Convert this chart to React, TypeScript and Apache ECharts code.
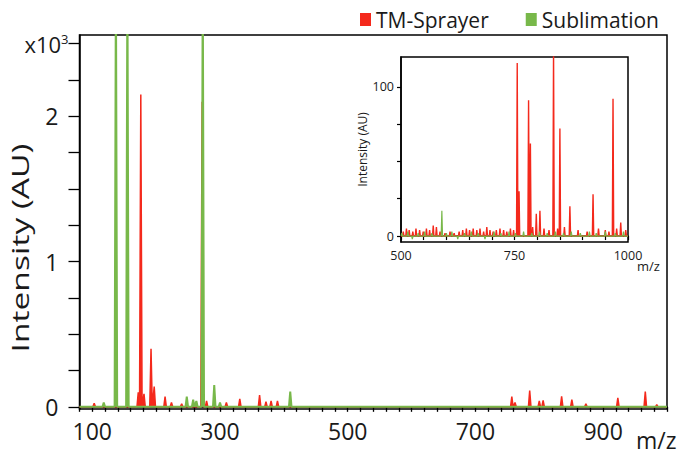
import React, { useEffect, useRef } from 'react';
import * as echarts from 'echarts';

// Tick labels
const mainXLabels = [100, 300, 500, 700, 900];
const mainYTicks = [0, 250, 500, 750, 1000, 1250, 1500, 1750, 2000, 2250, 2500];
const mainYLabels = [0, 1000, 2000, 2500];
const insetXLabels = [500, 750, 1000];
const insetYTicks = [0, 25, 50, 75, 100];
const insetYLabels = [0, 100];

// Main spectrum, TM-Sprayer (red): m/z and intensity
const sprayerMz = [103, 172, 176, 181, 192, 197, 214, 224, 240, 272, 279, 310, 331, 362, 372, 380, 390, 757, 762, 785, 800, 806, 835, 851, 873, 923, 966, 984];
const sprayerIntensity = [25, 100, 2150, 90, 400, 140, 70, 30, 20, 2100, 40, 30, 55, 80, 35, 40, 40, 70, 30, 112, 40, 45, 72, 50, 20, 62, 105, 15];

// Main spectrum, Sublimation (green)
const sublimationMz = [118, 137, 155, 248, 258, 263, 273, 291, 300, 410];
const sublimationIntensity = [30, 3000, 3000, 70, 50, 40, 3000, 150, 30, 105];

// Inset spectrum (m/z 500-1000), TM-Sprayer
const insetSprayerMz = [505, 512, 518, 526, 533, 541, 549, 556, 563, 571, 578, 586, 597, 608, 617, 628, 636, 644, 651, 659, 667, 674, 682, 689, 696, 703, 710, 718, 726, 733, 741, 748, 756, 760, 781, 785, 790, 798, 806, 815, 826, 836, 845, 850, 860, 872, 890, 910, 923, 935, 950, 958, 967, 975, 984, 995];
const insetSprayerIntensity = [3, 5, 4, 3, 5, 4, 3, 5, 4, 7, 6, 3, 2, 3, 2, 3, 4, 5, 4, 5, 4, 5, 3, 6, 4, 3, 4, 5, 4, 3, 5, 4, 116, 30, 91, 62, 6, 15, 17, 5, 4, 125, 5, 72, 6, 20, 4, 3, 28, 5, 4, 3, 92, 5, 9, 4];

// Inset spectrum, Sublimation
const insetSublimationMz = [502, 515, 525, 538, 552, 568, 590, 600, 612, 625, 640, 655, 670, 685, 705, 720, 738, 752, 770, 788, 805, 822, 840, 858, 875, 895, 915, 930, 950, 972, 990];
const insetSublimationIntensity = [2, 3, -2, 2, 3, 2, 17, 2, 3, -2, 2, 3, 2, -2, 3, 2, 3, 2, 3, 2, 3, 2, 3, 2, 3, 2, 3, 2, 3, 2, 3];

function spectrum(mz: number[], val: number[], hw: number, lo: number, hi: number) {
  const idx = mz.map((_, i) => i).sort((a, b) => mz[a] - mz[b]);
  const pts: number[][] = [[lo, 0]];
  idx.forEach((i) => {
    pts.push([mz[i] - hw, 0], [mz[i], val[i]], [mz[i] + hw, 0]);
  });
  pts.push([hi, 0]);
  return pts;
}

const RED = '#f4291c';
const GREEN = '#78b84a';
const FONT = 'Open Sans';
const INK = '#1a1a1a';

export default function App() {
  const ref = useRef<HTMLDivElement>(null);
  useEffect(() => {
    if (!ref.current) return;
    const chart = echarts.init(ref.current, undefined, { renderer: 'svg' });
    const option: any = {
      animation: false,
      textStyle: { fontFamily: FONT },
      legend: {
        data: ['TM-Sprayer', 'Sublimation'],
        icon: 'rect',
        itemWidth: 11,
        itemHeight: 13,
        itemGap: 37,
        right: 22,
        top: 4,
        textStyle: { fontSize: 21, color: INK, fontFamily: FONT },
      },
      grid: [
        { left: 79.5, right: 19, top: 35, bottom: 49, show: true, borderColor: '#000', borderWidth: 1.5, outerBoundsMode: 'none', containLabel: false },
        { left: 401, top: 57, width: 227, height: 185, show: true, backgroundColor: '#fff', borderColor: '#000', borderWidth: 1.5, z: 5, outerBoundsMode: 'none', containLabel: false },
      ],
      xAxis: [
        {
          type: 'value', gridIndex: 0, min: 80, max: 1000, interval: 20,
          axisLine: { lineStyle: { color: '#000', width: 1.5 } },
          axisTick: { length: 5, lineStyle: { color: '#000', width: 1.3 } },
          axisLabel: {
            fontSize: 23, color: INK, margin: 10, fontFamily: FONT,
            formatter: (v: number) => (mainXLabels.includes(v) ? String(v) : ''),
          },
          splitLine: { show: false },
        },
        {
          type: 'value', gridIndex: 1, min: 500, max: 1000, interval: 50, z: 6,
          axisLine: { lineStyle: { color: '#000', width: 1.5 } },
          axisTick: { length: 4, lineStyle: { color: '#000', width: 1.2 } },
          axisLabel: {
            fontSize: 12.5, color: INK, margin: 7, fontFamily: FONT,
            formatter: (v: number) => (insetXLabels.includes(v) ? String(v) : ''),
          },
          splitLine: { show: false },
        },
      ],
      yAxis: [
        {
          type: 'value', gridIndex: 0, min: -15, max: 2560,
          axisLine: { show: true, lineStyle: { color: '#000', width: 1.5 } },
          axisTick: { show: true, length: 11, customValues: mainYTicks, lineStyle: { color: '#000', width: 1.3 } },
          axisLabel: {
            customValues: mainYLabels, margin: 11, color: INK, fontFamily: FONT,
            formatter: (v: number) => (v === 2500 ? '{x|x10}{s|3}' : '{n|' + v / 1000 + '}'),
            rich: {
              x: { fontSize: 22, color: INK, fontFamily: FONT },
              s: { fontSize: 13, color: INK, fontFamily: FONT, verticalAlign: 'top', padding: [0, 0, 8, 0] },
              n: { fontSize: 23, color: INK, fontFamily: FONT, padding: [0, 10, 0, 0] },
            },
          },
          splitLine: { show: false },
        },
        {
          type: 'value', gridIndex: 1, min: -4, max: 120, z: 6,
          axisLine: { show: true, lineStyle: { color: '#000', width: 1.5 } },
          axisTick: { show: true, length: 4, customValues: insetYTicks, lineStyle: { color: '#000', width: 1.2 } },
          axisLabel: { customValues: insetYLabels, margin: 7, fontSize: 12.5, color: INK, fontFamily: FONT },
          splitLine: { show: false },
          name: 'Intensity (AU)', nameLocation: 'middle', nameGap: 33,
          nameTextStyle: { fontSize: 12, color: INK, fontFamily: FONT },
        },
      ],
      graphic: [
        {
          type: 'text', x: 8, y: 248, rotation: Math.PI / 2, scaleX: 1.4,
          style: { text: 'Intensity (AU)', fontSize: 24, fill: INK, fontFamily: FONT, align: 'center', verticalAlign: 'top' },
        },
        { type: 'text', left: 636, top: 428, style: { text: 'm/z', fontSize: 23, fill: INK, fontFamily: FONT } },
        { type: 'text', left: 637, top: 259, z: 10, style: { text: 'm/z', fontSize: 13, fill: INK, fontFamily: FONT } },
      ],
      series: [
        {
          name: 'TM-Sprayer', type: 'line', xAxisIndex: 0, yAxisIndex: 0,
          data: spectrum(sprayerMz, sprayerIntensity, 2, 80, 1000),
          showSymbol: false, symbol: 'none',
          lineStyle: { color: RED, width: 1.5 }, itemStyle: { color: RED },
          areaStyle: { color: RED, opacity: 1 }, z: 2,
        },
        {
          name: 'Sublimation', type: 'line', xAxisIndex: 0, yAxisIndex: 0,
          data: spectrum(sublimationMz, sublimationIntensity, 2, 80, 1000),
          showSymbol: false, symbol: 'none',
          lineStyle: { color: GREEN, width: 2 }, itemStyle: { color: GREEN },
          areaStyle: { color: GREEN, opacity: 1 }, z: 3,
        },
        {
          name: 'TM-Sprayer', type: 'line', xAxisIndex: 1, yAxisIndex: 1,
          data: spectrum(insetSprayerMz, insetSprayerIntensity, 1.5, 500, 1000),
          showSymbol: false, symbol: 'none',
          lineStyle: { color: RED, width: 1.4 }, itemStyle: { color: RED },
          areaStyle: { color: RED, opacity: 1 }, z: 7,
        },
        {
          name: 'Sublimation', type: 'line', xAxisIndex: 1, yAxisIndex: 1,
          data: spectrum(insetSublimationMz, insetSublimationIntensity, 1.5, 500, 1000),
          showSymbol: false, symbol: 'none',
          lineStyle: { color: GREEN, width: 1.2 }, itemStyle: { color: GREEN },
          z: 8,
        },
      ],
    };
    chart.setOption(option);
    return () => chart.dispose();
  }, []);
  return <div ref={ref} style={{ position: 'fixed', left: 0, top: 0, width: 686, height: 458, background: '#fff' }} />;
}
